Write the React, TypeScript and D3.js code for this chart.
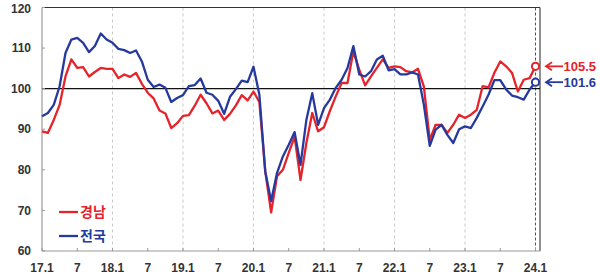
import React from "react";
import * as d3 from "d3";

const tickLabels = ["17.1", "7", "18.1", "7", "19.1", "7", "20.1", "7", "21.1", "7", "22.1", "7", "23.1", "7", "24.1"];
const yTicks = [60, 70, 80, 90, 100, 110, 120];

const gyeongnam = [
  89.5, 89.1, 92.3, 96, 103, 107.2, 105.1, 105.3, 103, 104.1, 105.1, 104.9,
  104.9, 102.6, 103.5, 102.9, 103.9, 101.2, 99, 97.6, 94.6, 93.9, 90.3, 91.5,
  93.3, 93.5, 95.8, 98.5, 96.4, 93.9, 94.6, 92.3, 93.8, 95.9, 98.4, 97.1,
  99.3, 96.7, 79.6, 69.5, 78.4, 80, 84.2, 88.2, 77.5, 86.6, 94, 89.5,
  90.5, 94.5, 98.1, 101.4, 101.4, 109.2, 104.7, 100.8, 103, 105.1, 107.2, 105.1,
  105.5, 105.3, 104.3, 104, 104.9, 100.5, 87.4, 91.1, 91.1, 89.1, 91.1, 93.6,
  92.8, 93.6, 94.8, 100.6, 100.3, 103.9, 106.7, 105.5, 103.9, 99.3, 102.2, 102.6,
  105.5,
];
const national = [
  93.2, 94, 96, 100.6, 108.8, 112.1, 112.5, 111.3, 109, 110.5, 113.6, 112.1,
  111.3, 109.8, 109.5, 108.8, 109.4, 106.7, 102.2, 100.4, 101, 100.2, 96.7, 97.7,
  98.4, 100.6, 100.9, 102.5, 99, 98.5, 97, 93.8, 98, 99.9, 102, 101.6,
  105.4, 98.5, 79.6, 72.3, 79.2, 83.3, 86.2, 89.3, 81.2, 92.3, 98.9, 91.1,
  95.2, 97.3, 100.2, 102.2, 105.1, 110.5, 103.5, 103, 104.3, 107.2, 108.1, 104.5,
  104.8, 103.5, 103.5, 104, 103.5, 96, 85.9, 89.9, 91.1, 88.6, 86.6, 90,
  90.7, 90.3, 92.8, 95.6, 98.5, 102.1, 102.1, 99.8, 98.3, 97.9, 97.3, 99.8,
  101.6,
];
const seriesNames = ["경남", "전국"];
const lastLabels = ["105.5", "101.6"];

const RED = "#e5232b";
const BLUE = "#26399e";
const KFONT = "'Noto Sans CJK KR', 'Noto Sans', sans-serif";
const NFONT = "'Liberation Sans', Arial, sans-serif";

export default function App() {
  const left = 42, right = 540, top = 7.5, bottom = 251;
  const n = gyeongnam.length;
  const x = d3.scaleLinear().domain([0, n - 1]).range([left, 535.5]);
  const y = d3.scaleLinear().domain([60, 120]).range([bottom, top]);
  const line = d3.line<number>().x((_, i) => x(i)).y((d) => y(d));
  const tickIdx = tickLabels.map((_, i) => i * 6);
  const series = [
    { name: seriesNames[0], data: gyeongnam, color: RED, label: lastLabels[0] },
    { name: seriesNames[1], data: national, color: BLUE, label: lastLabels[1] },
  ];

  return (
    <svg width={600} height={275} style={{ position: "absolute", left: 0, top: 0, background: "#fff" }}>
      {tickIdx.filter((t, i) => i % 2 === 0 && t > 0 && t < n - 1).map((t) => (
        <line key={"g" + t} x1={x(t)} x2={x(t)} y1={top} y2={bottom} stroke="#c8c8c8" strokeWidth={1} strokeDasharray="3,3" />
      ))}
      <line x1={x(n - 1)} x2={x(n - 1)} y1={top} y2={bottom} stroke="#555" strokeWidth={1} strokeDasharray="3,2" />
      <line x1={left} x2={right} y1={top} y2={top} stroke="#333" strokeWidth={1.2} />
      <line x1={right} x2={right} y1={top} y2={bottom} stroke="#444" strokeWidth={1.2} />
      <line x1={left} x2={left} y1={top} y2={bottom} stroke="#999" strokeWidth={1.2} />
      <line x1={left} x2={right} y1={bottom} y2={bottom} stroke="#999" strokeWidth={1.2} />
      <line x1={left} x2={right} y1={y(100)} y2={y(100)} stroke="#111" strokeWidth={1.3} />
      {yTicks.map((t) => (
        <g key={"y" + t}>
          <line x1={left} x2={left + 3} y1={y(t)} y2={y(t)} stroke="#999" />
          <text x={31} y={Math.max(y(t), 9)} dy="0.35em" textAnchor="end" fontFamily={NFONT} fontWeight="bold" fontSize={12} fill="#333">
            {t}
          </text>
        </g>
      ))}
      {tickIdx.map((t, i) => (
        <g key={"x" + i}>
          <line x1={x(t)} x2={x(t)} y1={bottom} y2={bottom - 3} stroke="#999" />
          <text x={x(t)} y={267.5} dy="0.35em" textAnchor="middle" fontFamily={NFONT} fontWeight="bold" fontSize={12} fill="#333">
            {tickLabels[i]}
          </text>
        </g>
      ))}
      {series.map((s) => (
        <path key={s.name} d={line(s.data) || ""} fill="none" stroke={s.color} strokeWidth={2.3} strokeLinejoin="round" />
      ))}
      {series.map((s) => {
        const v = s.data[n - 1];
        const cy = y(v);
        return (
          <g key={"e" + s.name}>
            <circle cx={x(n - 1)} cy={cy} r={3.6} fill="#fff" stroke={s.color} strokeWidth={2} />
            <line x1={547} x2={563} y1={cy} y2={cy} stroke={s.color} strokeWidth={1.8} />
            <path d={`M${552},${cy - 4} L${546},${cy} L${552},${cy + 4}`} fill="none" stroke={s.color} strokeWidth={1.8} />
            <text x={563.5} y={cy} dy="0.36em" fontFamily={NFONT} fontWeight="bold" fontSize={13} fill={s.color}>
              {s.label}
            </text>
          </g>
        );
      })}
      {series.map((s, i) => (
        <g key={"l" + s.name}>
          <line x1={59} x2={78} y1={212 + i * 24} y2={212 + i * 24} stroke={s.color} strokeWidth={2.3} />
          <text x={80} y={212 + i * 24} dy="0.36em" fontFamily={KFONT} fontWeight="bold" fontSize={14} fill={s.color}>
            {s.name}
          </text>
        </g>
      ))}
    </svg>
  );
}
